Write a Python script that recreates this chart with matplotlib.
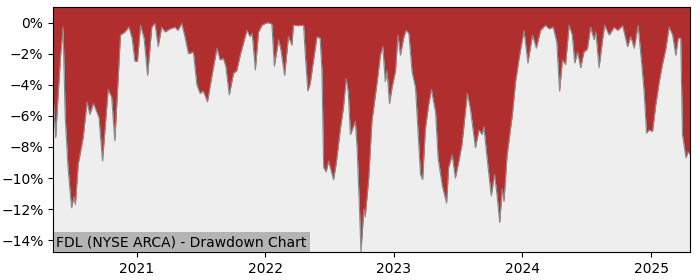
import numpy as np
import pandas as pd
import matplotlib
matplotlib.use("Agg")
import matplotlib.pyplot as plt
import matplotlib.dates as mdates
from matplotlib.ticker import PercentFormatter

# drawdown in percent
dates = [
    "2020-05-09", "2020-05-16", "2020-05-22", "2020-05-30", "2020-06-06", "2020-06-12",
    "2020-06-20", "2020-06-30", "2020-07-07", "2020-07-11", "2020-07-19", "2020-08-02",
    "2020-08-13", "2020-08-21", "2020-08-31", "2020-09-09", "2020-09-16", "2020-09-26",
    "2020-10-12", "2020-10-22", "2020-10-31", "2020-11-16", "2020-11-29", "2020-12-10",
    "2020-12-19", "2020-12-27",
    "2021-01-03", "2021-01-12", "2021-01-22", "2021-02-01", "2021-02-13", "2021-02-22",
    "2021-03-03", "2021-03-13", "2021-03-23", "2021-04-06", "2021-04-20", "2021-04-28",
    "2021-05-09", "2021-05-18", "2021-05-28", "2021-06-11", "2021-06-21", "2021-06-30",
    "2021-07-09", "2021-07-21", "2021-08-02", "2021-08-17", "2021-08-26", "2021-09-04",
    "2021-09-11", "2021-09-21", "2021-10-03", "2021-10-12", "2021-10-22", "2021-10-31",
    "2021-11-10", "2021-11-19", "2021-11-25", "2021-12-04", "2021-12-13", "2021-12-23",
    "2022-01-01", "2022-01-09", "2022-01-20", "2022-01-27", "2022-02-08", "2022-02-15",
    "2022-02-25", "2022-03-08", "2022-03-18", "2022-03-22", "2022-04-05", "2022-04-20",
    "2022-04-25", "2022-05-02", "2022-05-09", "2022-05-17", "2022-05-28", "2022-06-06",
    "2022-06-11", "2022-06-16", "2022-06-23", "2022-06-30", "2022-07-14", "2022-07-22",
    "2022-08-02", "2022-08-11", "2022-08-19", "2022-08-25", "2022-08-31", "2022-09-14",
    "2022-09-19", "2022-09-25", "2022-09-30", "2022-10-08", "2022-10-12", "2022-10-22",
    "2022-10-31", "2022-11-15", "2022-11-24", "2022-12-01", "2022-12-08", "2022-12-13",
    "2022-12-20", "2022-12-27",
    "2023-01-06", "2023-01-13", "2023-01-20", "2023-01-29", "2023-02-05", "2023-02-13",
    "2023-02-22", "2023-03-04", "2023-03-11", "2023-03-18", "2023-03-24", "2023-04-01",
    "2023-04-10", "2023-04-18", "2023-04-30", "2023-05-07", "2023-05-19", "2023-05-31",
    "2023-06-06", "2023-06-16", "2023-06-25", "2023-07-05", "2023-07-14", "2023-07-29",
    "2023-08-07", "2023-08-21", "2023-08-31", "2023-09-09", "2023-09-14", "2023-09-24",
    "2023-10-05", "2023-10-14", "2023-10-21", "2023-10-29", "2023-11-05", "2023-11-10",
    "2023-11-19", "2023-12-04", "2023-12-13", "2023-12-23",
    "2024-01-06", "2024-01-17", "2024-01-30", "2024-02-10", "2024-02-22", "2024-03-07",
    "2024-03-17", "2024-03-29", "2024-04-08", "2024-04-16", "2024-04-24", "2024-05-03",
    "2024-05-13", "2024-05-22", "2024-05-29", "2024-06-06", "2024-06-15", "2024-06-24",
    "2024-07-04", "2024-07-13", "2024-07-23", "2024-07-28", "2024-08-06", "2024-08-16",
    "2024-08-22", "2024-09-04", "2024-09-18", "2024-09-28", "2024-10-12", "2024-10-26",
    "2024-11-04", "2024-11-14", "2024-11-25", "2024-12-03", "2024-12-12", "2024-12-19",
    "2024-12-26",
    "2025-01-05", "2025-01-14", "2025-01-24", "2025-02-02", "2025-02-12", "2025-02-21",
    "2025-03-03", "2025-03-12", "2025-03-19", "2025-03-26", "2025-03-31", "2025-04-10",
    "2025-04-16", "2025-04-22",
]
drawdown = [
    -4.85, -7.4, -5.0, -2.1, -0.3, -6.0,
    -9.3, -11.9, -11.2, -11.7, -9.1, -7.4,
    -5.1, -5.9, -5.2, -5.7, -6.1, -8.9,
    -4.3, -4.8, -7.6, -0.8, -0.6, -0.28,
    -1.0, -2.5,
    -2.5, -0.17, -1.0, -3.4, -0.28, -0.06,
    -1.55, -0.3, -0.6, -0.4, -0.3, -0.5,
    -0.06, -0.9, -2.0, -1.9, -4.0, -4.55,
    -4.4, -5.1, -3.5, -1.65, -2.4, -2.3,
    -2.8, -4.65, -3.25, -3.1, -2.1, -1.35,
    -0.5, -0.9, -0.7, -3.05, -0.6, -0.17,
    -0.06, 0.0, -0.1, -2.8, -1.1, -1.8,
    -3.4, -0.9, -1.45, -0.17, -0.2, -0.17,
    -2.1, -4.4, -3.9, -2.6, -0.92, -1.0,
    -3.0, -9.3, -9.6, -8.9, -10.1, -9.0,
    -6.9, -5.5, -3.6, -4.5, -7.2, -6.35,
    -8.05, -11.5, -14.75, -12.0, -12.5, -10.0,
    -6.35, -3.8, -2.1, -1.55, -3.8, -3.1,
    -5.2, -4.2,
    -3.1, -0.8, -2.1, -1.0, -0.5, -0.7,
    -3.15, -4.2, -7.0, -9.75, -10.1, -6.8,
    -5.3, -4.3, -5.8, -8.7, -10.5, -11.6,
    -9.3, -8.5, -10.0, -8.9, -7.8, -4.55,
    -5.6, -8.05, -6.9, -7.2, -6.7, -8.9,
    -11.15, -9.75, -11.0, -12.85, -10.7, -11.5,
    -8.5, -5.9, -3.8, -2.3,
    -0.5, -2.6, -0.8, -1.65, -0.5, -0.17,
    -0.4, -0.3, -1.25, -4.4, -2.4, -2.7,
    -0.17, -0.8, -2.6, -1.9, -2.9, -1.9,
    -1.7, -0.28, -1.1, -0.6, -2.9, -1.1,
    -0.17, -0.8, -0.3, -0.5, -0.2, -1.55,
    -0.9, -1.65, -0.17, -2.1, -4.4, -7.1,
    -6.9,
    -7.0, -5.3, -3.8, -2.7, -1.65, -0.28,
    -0.8, -2.1, -1.0, -1.0, -7.2, -8.7,
    -8.3, -8.5,
]
title = "FDL (NYSE ARCA) - Drawdown Chart"

x = pd.to_datetime(dates)
dd = np.array(drawdown)
top = 1.0

fig = plt.figure(figsize=(7, 2.8), dpi=100)
ax = fig.add_axes([0.076, 0.1, 0.91, 0.875])
ax.set_facecolor("#eeeeee")

ax.fill_between(x, dd, top, color="#b02e2e", linewidth=0)
ax.plot(x, dd, color="#8a8a8a", linewidth=0.8)

ax.set_xlim(x[0], x[-1])
ax.set_ylim(dd.min(), top)
ax.yaxis.set_major_formatter(PercentFormatter(xmax=100, decimals=0))
ax.set_yticks(np.arange(-14, 1, 2))
ax.xaxis.set_major_locator(mdates.YearLocator())
ax.xaxis.set_major_formatter(mdates.DateFormatter("%Y"))
ax.tick_params(labelsize=10)

ax.text(0.005, 0.012, title, transform=ax.transAxes, fontsize=10,
        ha="left", va="bottom",
        bbox=dict(facecolor="#b4b4b4", edgecolor="none", pad=2))

fig.savefig("out.png")
